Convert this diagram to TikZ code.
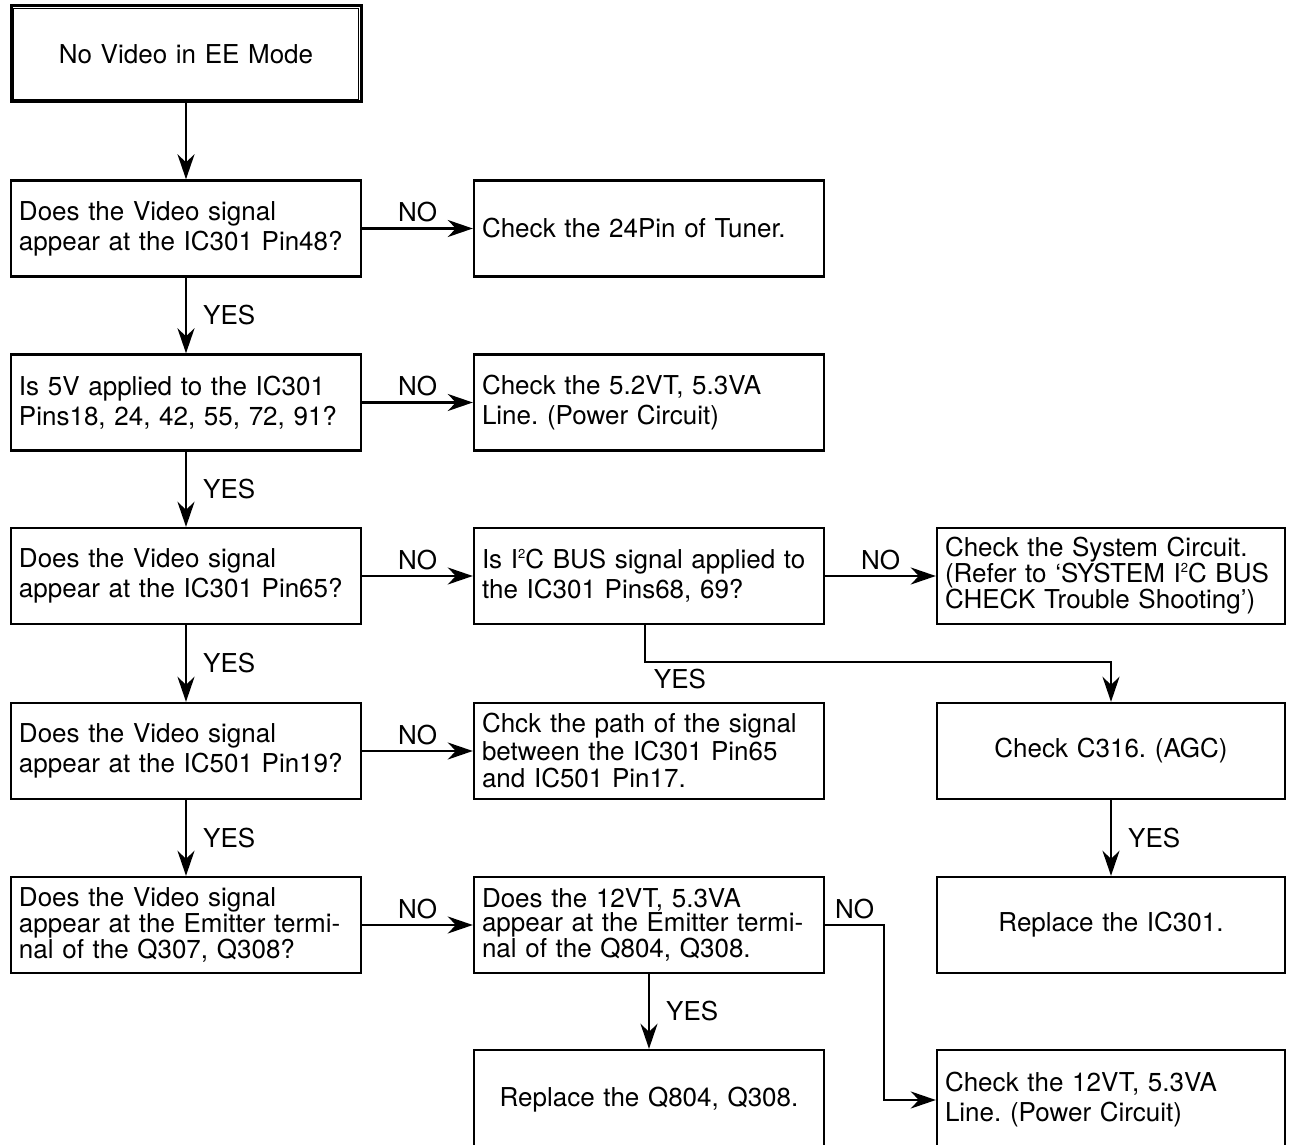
\documentclass[tikz,border=0pt]{standalone}
\usepackage{fontspec}
\setmainfont{TeX Gyre Heros}
\usetikzlibrary{arrows.meta}
\newcommand{\sqtwo}{\raisebox{0.75ex}{\fontsize{13}{13}\selectfont 2}}
\begin{document}
\frenchspacing
\begin{tikzpicture}[x=1pt,y=-1pt,
  box/.style={draw, line width=2.4pt, minimum width=350pt, minimum height=96pt,
    inner xsep=8pt, inner ysep=0pt, text width=334pt, align=left,
    font=\fontsize{26}{30}\selectfont},
  rbox/.style={box, minimum width=348pt, text width=332pt},
  tight/.style={font=\fontsize{26}{24}\selectfont},
  mid/.style={font=\fontsize{26}{27.5}\selectfont},
  ctr/.style={align=center},
  conn/.style={line width=2.4pt, -{Stealth[length=25pt,width=17pt,inset=8pt]}},
  lab/.style={font=\fontsize{26}{30}\selectfont, inner sep=2pt}]
\useasboundingbox (0,0) rectangle (1293,1145);
\clip (0,0) rectangle (1293,1145);

% top box (double border)
\node[box, ctr, line width=3pt] (top) at (186,54) {No Video in EE Mode};
\draw[line width=1.3pt] ([shift={(4.3,4.3)}]top.north west) rectangle ([shift={(-4.3,-4.3)}]top.south east);

% left column
\node[box] (r1L) at (186,228.5) {Does the Video signal\\appear at the IC301 Pin48?};
\node[box] (r2L) at (186,402.5) {Is 5V applied to the IC301\\Pins18, 24, 42, 55, 72, 91?};
\node[box] (r3L) at (186,576) {Does the Video signal\\appear at the IC301 Pin65?};
\node[box] (r4L) at (186,751) {Does the Video signal\\appear at the IC501 Pin19?};
\node[box, tight] (r5L) at (186,925) {Does the Video signal\\appear at the Emitter termi-\\nal of the Q307, Q308?};

% middle column
\node[box] (r1M) at (649,228.5) {Check the 24Pin of Tuner.};
\node[box] (r2M) at (649,402.5) {Check the 5.2VT, 5.3VA\\Line. (Power Circuit)};
\node[box] (r3M) at (649,576) {Is I\sqtwo C BUS signal applied to\\the IC301 Pins68, 69?};
\node[box, mid] (r4M) at (649,751) {Chck the path of the signal\\between the IC301 Pin65\\and IC501 Pin17.};
\node[box, tight] (r5M) at (649,925) {Does the 12VT, 5.3VA\\appear at the Emitter termi-\\nal of the Q804, Q308.};
\node[box, ctr, minimum height=100pt] (r6M) at (649,1100) {Replace the Q804, Q308.};

% right column
\node[rbox, tight] (r3R) at (1111,576) {Check the System Circuit.\\(Refer to ‘SYSTEM I\sqtwo C BUS\\CHECK Trouble Shooting’)};
\node[rbox, ctr] (r4R) at (1111,751) {Check C316. (AGC)};
\node[rbox, ctr] (r5R) at (1111,925) {Replace the IC301.};
\node[rbox, minimum height=100pt] (r6R) at (1111,1100) {Check the 12VT, 5.3VA\\Line. (Power Circuit)};

% connectors
\draw[conn] (top) -- (r1L);
\draw[conn] (r1L) -- node[lab, above=3pt]{NO} (r1M);
\draw[conn] (r1L) -- node[lab, right=14pt]{YES} (r2L);
\draw[conn] (r2L) -- node[lab, above=3pt]{NO} (r2M);
\draw[conn] (r2L) -- node[lab, right=14pt]{YES} (r3L);
\draw[conn] (r3L) -- node[lab, above=3pt]{NO} (r3M);
\draw[conn] (r3L) -- node[lab, right=14pt]{YES} (r4L);
\draw[conn] (r3M) -- node[lab, above=3pt]{NO} (r3R);
\draw[conn] ([xshift=-4pt]r3M.south) -- ++(0,37) -| (r4R.north);
\node[lab] (yes3) at (680,679) {YES};
\draw[conn] (r4L) -- node[lab, above=3pt]{NO} (r4M);
\draw[conn] (r4L) -- node[lab, right=14pt]{YES} (r5L);
\draw[conn] (r4R) -- node[lab, right=14pt]{YES} (r5R);
\draw[conn] (r5L) -- node[lab, above=3pt]{NO} (r5M);
\draw[conn] (r5M) -- node[lab, right=14pt]{YES} (r6M.north);
\draw[conn] (r5M.east) -- node[lab, above=3pt]{NO} ++(59,0) |- (r6R.west);
\end{tikzpicture}
\end{document}
